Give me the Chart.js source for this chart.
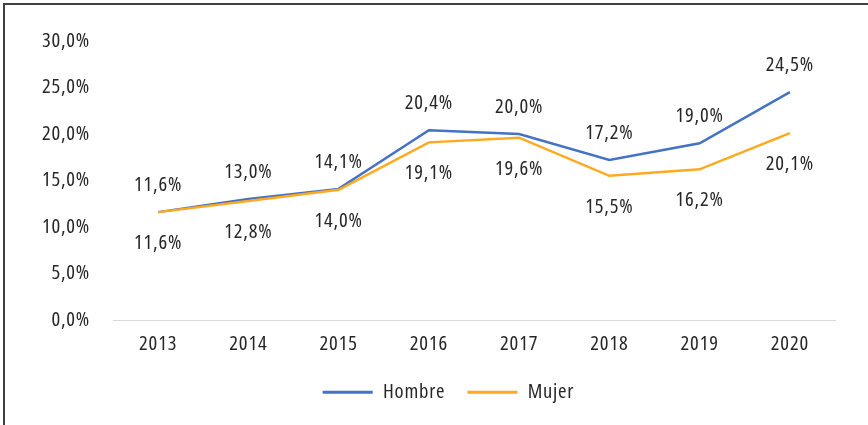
<!DOCTYPE html>
<html>
<head>
<meta charset="utf-8">
<script src="https://cdn.jsdelivr.net/npm/chart.js@4/dist/chart.umd.min.js"></script>
<style>
  html, body { margin: 0; padding: 0; background: #fff; }
  #wrap { position: relative; width: 868px; height: 425px; overflow: hidden; }
  #frame { position: absolute; left: 3px; top: 3px; width: 900px; height: 460px; border-left: 2px solid #404040; border-top: 2px solid #404040; pointer-events: none; }
  canvas { position: absolute; left: 0; top: 0; }
</style>
</head>
<body>
<div id="wrap">
  <canvas id="c" width="868" height="425"></canvas>
  <div id="frame"></div>
</div>
<script>
const years = ['2013', '2014', '2015', '2016', '2017', '2018', '2019', '2020'];
const hombre = [11.6, 13.0, 14.1, 20.4, 20.0, 17.2, 19.0, 24.5];
const mujer = [11.6, 12.8, 14.0, 19.1, 19.6, 15.5, 16.2, 20.1];
const seriesNames = ['Hombre', 'Mujer'];
const yTicks = [0, 5, 10, 15, 20, 25, 30];

const FAMILY = "'Open Sans', 'Noto Sans', sans-serif";
const STRETCH = 'condensed';
const SIZE = 20.5;
const SPACING = '0.8px';
const fontOpt = { family: FAMILY, size: SIZE, weight: STRETCH };
const fmt = v => v.toFixed(1).replace('.', ',') + '%';

const spacingPlugin = {
  id: 'spacing',
  beforeInit(chart) { chart.ctx.letterSpacing = SPACING; },
  beforeUpdate(chart) { chart.ctx.letterSpacing = SPACING; },
  afterLayout(chart) {
    const lg = chart.legend;
    if (lg) {
      const shift = 448.5 - (lg.left + lg.right) / 2;
      lg.left += shift;
      lg.right += shift;
    }
  }
};

const labelPlugin = {
  id: 'pointLabels',
  afterDatasetsDraw(chart) {
    const ctx = chart.ctx;
    ctx.save();
    ctx.letterSpacing = SPACING;
    ctx.font = STRETCH + ' ' + SIZE + 'px ' + FAMILY;
    ctx.fillStyle = '#262626';
    ctx.textAlign = 'center';
    ctx.textBaseline = 'middle';
    chart.data.datasets.forEach((ds, di) => {
      const meta = chart.getDatasetMeta(di);
      const off = di === 0 ? -27 : 31;
      meta.data.forEach((pt, i) => {
        ctx.fillText(fmt(ds.data[i]), pt.x, pt.y + off);
      });
    });
    ctx.restore();
  }
};

new Chart(document.getElementById('c'), {
  type: 'line',
  data: {
    labels: years,
    datasets: [
      { label: seriesNames[0], data: hombre, borderColor: '#4472C4', backgroundColor: '#4472C4', borderWidth: 2.5, pointRadius: 0, tension: 0, order: 2 },
      { label: seriesNames[1], data: mujer, borderColor: '#FFA91E', backgroundColor: '#FFA91E', borderWidth: 2.5, pointRadius: 0, tension: 0, order: 1 }
    ]
  },
  options: {
    responsive: false,
    animation: false,
    layout: { padding: { top: 41, right: 33, bottom: 15, left: 0 } },
    plugins: {
      legend: {
        position: 'bottom',
        maxHeight: 50,
        labels: {
          font: fontOpt,
          color: '#262626',
          boxWidth: 50,
          boxHeight: 3,
          padding: 22,
          sort: (a, b) => a.datasetIndex - b.datasetIndex,
          generateLabels(chart) {
            return Chart.defaults.plugins.legend.labels.generateLabels(chart).map(it => Object.assign(it, { lineWidth: 0 }));
          }
        }
      },
      tooltip: { enabled: false }
    },
    scales: {
      x: {
        offset: true,
        grid: { display: false, drawTicks: false },
        border: { display: true, color: '#D9D9D9', width: 1 },
        ticks: { font: fontOpt, color: '#262626', padding: 12 },
        afterFit(s) { s.height = 40; }
      },
      y: {
        min: 0, max: 30,
        grid: { display: false, drawTicks: false },
        border: { display: false },
        afterBuildTicks(s) { s.ticks = yTicks.map(v => ({ value: v })); },
        ticks: { font: fontOpt, color: '#262626', padding: 23, callback: v => fmt(v) },
        afterFit(s) { s.width = 113; }
      }
    }
  },
  plugins: [spacingPlugin, labelPlugin]
});
</script>
</body>
</html>
